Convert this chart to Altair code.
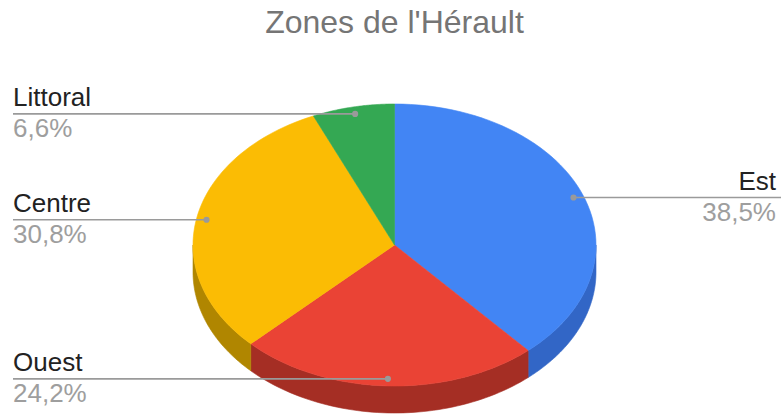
import altair as alt
import pandas as pd

# ---- data ----
zones = ["Est", "Ouest", "Centre", "Littoral"]
values = [35, 22, 28, 6]
order = [0, 1, 2, 3]

# ---- styles / layout ----
TOP_COLORS = ["#4285F4", "#EA4335", "#FBBC04", "#34A853"]
SIDE_COLORS = ["#3266C6", "#A52E24", "#B08600", "#25773B"]
FONT = "Arial, 'Liberation Sans', sans-serif"
CX, CY, RX, RY, DEPTH = 394.5, 245.0, 201.5, 141.0, 27.0
LR = 0.95
LEFT_X, RIGHT_X, RIGHT_EDGE = 13.0, 776.0, 781.0

df = pd.DataFrame({"zone": zones, "value": values, "order": order})

xs = alt.Scale(domain=[0, 781], zero=False, nice=False)
ys = alt.Scale(domain=[415, 50], zero=False, nice=False)
top_scale = alt.Scale(domain=zones, range=TOP_COLORS)
side_scale = alt.Scale(domain=zones, range=SIDE_COLORS)

base = (
    alt.Chart(df)
    .transform_joinaggregate(total="sum(value)")
    .transform_window(cum="sum(value)", sort=[alt.SortField("order")], frame=[None, 0])
    .transform_calculate(f0="(datum.cum - datum.value) / datum.total")
    .transform_calculate(f1="datum.cum / datum.total")
)

# side (3D depth) of the front half
side = (
    base.transform_calculate(s0="max(datum.f0, 0.25)")
    .transform_calculate(s1="min(datum.f1, 0.75)")
    .transform_filter("datum.s1 > datum.s0")
    .transform_calculate(steps="sequence(0, 61)")
    .transform_flatten(["steps"], as_=["t"])
    .transform_calculate(a="2 * PI * (datum.s0 + (datum.s1 - datum.s0) * datum.t / 60)")
    .transform_calculate(px=f"{CX} + {RX} * sin(datum.a)")
    .transform_calculate(py=f"{CY} - {RY} * cos(datum.a)")
    .transform_calculate(py2=f"datum.py + {DEPTH}")
    .mark_area(strokeWidth=0.6)
    .encode(
        x=alt.X("px:Q", scale=xs, axis=None),
        y=alt.Y("py:Q", scale=ys, axis=None),
        y2="py2:Q",
        fill=alt.Fill("zone:N", scale=side_scale, legend=None),
        stroke=alt.Stroke("zone:N", scale=side_scale, legend=None),
    )
)

# top face wedges
top = (
    base.transform_calculate(steps="sequence(-1, 62)")
    .transform_flatten(["steps"], as_=["t"])
    .transform_calculate(frac="datum.f0 + (datum.f1 - datum.f0) * clamp(datum.t, 0, 60) / 60")
    .transform_calculate(a="2 * PI * datum.frac")
    .transform_calculate(center="datum.t < 0 || datum.t > 60")
    .transform_calculate(px=f"datum.center ? {CX} : {CX} + {RX} * sin(datum.a)")
    .transform_calculate(py=f"datum.center ? {CY} : {CY} - {RY} * cos(datum.a)")
    .mark_line(strokeWidth=0.6, interpolate="linear")
    .encode(
        x=alt.X("px:Q", scale=xs, axis=None),
        y=alt.Y("py:Q", scale=ys, axis=None),
        order=alt.Order("t:Q"),
        fill=alt.Fill("zone:N", scale=top_scale, legend=None),
        stroke=alt.Stroke("zone:N", scale=top_scale, legend=None),
    )
)

lead = (
    base.transform_calculate(mid="PI * (datum.f0 + datum.f1)")
    .transform_calculate(ex=f"{CX} + {LR * RX} * sin(datum.mid)")
    .transform_calculate(ey=f"{CY} - {LR * RY} * cos(datum.mid)")
    .transform_calculate(right="sin(datum.mid) > 0")
    .transform_calculate(lx1=f"datum.right ? datum.ex : {LEFT_X}")
    .transform_calculate(lx2=f"datum.right ? {RIGHT_EDGE} : datum.ex")
    .transform_calculate(tx=f"datum.right ? {RIGHT_X} : {LEFT_X}")
    .transform_calculate(ny="datum.ey - 7.5")
    .transform_calculate(pcty="datum.ey + 23")
    .transform_calculate(
        pct="replace(format(100 * datum.value / datum.total, '.1f'), '.', ',') + '%'"
    )
)

rules = lead.mark_rule(color="#9a9a9a", strokeWidth=1.6).encode(
    x=alt.X("lx1:Q", scale=xs, axis=None),
    x2="lx2:Q",
    y=alt.Y("ey:Q", scale=ys, axis=None),
)
dots = lead.mark_circle(size=38, color="#9a9a9a", opacity=1).encode(
    x=alt.X("ex:Q", scale=xs, axis=None),
    y=alt.Y("ey:Q", scale=ys, axis=None),
)


def labels(side_expr, align):
    sub = lead.transform_filter(side_expr)
    name = sub.mark_text(
        align=align, baseline="alphabetic", fontSize=26, font=FONT, color="#222222"
    ).encode(
        x=alt.X("tx:Q", scale=xs, axis=None),
        y=alt.Y("ny:Q", scale=ys, axis=None),
        text="zone:N",
    )
    pct = sub.mark_text(
        align=align, baseline="alphabetic", fontSize=26, font=FONT, color="#9e9e9e"
    ).encode(
        x=alt.X("tx:Q", scale=xs, axis=None),
        y=alt.Y("pcty:Q", scale=ys, axis=None),
        text="pct:N",
    )
    return [name, pct]


layers = [side, top, rules, dots] + labels("datum.right", "right") + labels("!datum.right", "left")

chart = (
    alt.layer(*layers)
    .resolve_scale(fill="independent", stroke="independent")
    .properties(
        width=781,
        height=365,
        padding={"left": 0, "top": 50, "right": 0, "bottom": 0},
        autosize=alt.AutoSizeParams(type="none"),
        title=alt.TitleParams(
            "Zones de l'Hérault",
            fontSize=32,
            font=FONT,
            fontWeight="normal",
            color="#757575",
            anchor="middle",
            baseline="alphabetic",
            offset=-15,
            dx=4,
        ),
        background="white",
    )
    .configure_view(stroke=None)
)

chart.save("out.html", embed_options={"renderer": "svg", "actions": False})
